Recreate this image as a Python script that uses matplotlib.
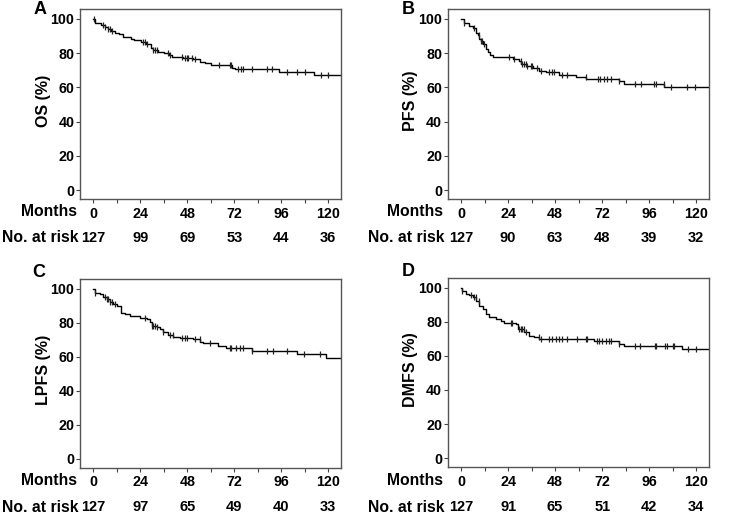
import numpy as np
import matplotlib
matplotlib.use("Agg")
import matplotlib.pyplot as plt
from matplotlib.transforms import blended_transform_factory

plt.rcParams['font.family'] = ['Liberation Sans', 'DejaVu Sans']
plt.rcParams['font.weight'] = 'bold'

# ---------------- data ----------------
month_ticks = [0, 24, 48, 72, 96, 120]
panel_letters = ["A", "B", "C", "D"]
ylabels = ["OS (%)", "PFS (%)", "LPFS (%)", "DMFS (%)"]

os_t = [0, 1, 4, 6, 7.5, 9, 11, 13, 15, 19.5, 21, 24.5, 27, 29.5, 30.5, 33, 36, 38.5, 40,
        46, 51, 54.5, 57, 60.3, 71, 72.5, 95, 112.7, 127]
os_s = [100, 97.5, 96.3, 95, 94, 93, 92, 91, 89.5, 88.5, 87.5, 86.5, 85.5, 83, 82, 80.8, 80, 79, 77.8,
        77, 76.3, 75, 74.3, 72.9, 71.5, 70.5, 69, 67, 67]
os_c = [0.5, 5.1, 6.0, 7.6, 8.5, 9.4, 25.5, 26.3, 27.2, 30.6, 31.4, 32.3, 38.2, 39.1, 45.1, 46.8,
        47.6, 48.4, 50.2, 51.9, 64.3, 69.7, 70.5, 73.9, 75.3, 76.5, 81.3, 88.9, 91.5, 99, 104.0,
        108.3, 116.1, 119.8]
os_risk = [127, 99, 69, 53, 44, 36]

pfs_t = [0, 1.4, 4.3, 6, 7.7, 8.5, 9.4, 10, 11, 12.8, 14, 15, 16.2, 23, 26.4, 29.8, 30.6, 33.2,
         36.6, 40, 43.4, 50.2, 58.7, 64, 80.7, 83.2, 103.7, 127]
pfs_s = [100, 97.6, 96, 94.5, 92, 90.6, 88.5, 87, 85.5, 82.4, 80.5, 79, 78, 77.5, 76.6, 75.6, 73.6,
         72.7, 71.3, 69.7, 68.8, 67.2, 66.3, 64.7, 63.5, 62.1, 60.2, 60.2]
pfs_c = [1.5, 6.6, 9.2, 10, 10.9, 11.7, 24.5, 27, 30.4, 31.3, 32.2, 33, 33.9, 35.6, 36.4, 38.9,
         40.6, 44.9, 46.6, 47.5, 51.7, 54.3, 63.6, 70, 71, 72.7, 74.4, 76.4, 80.7, 88.7, 91.7,
         98.6, 99.4, 103.3, 107, 115.2, 119.3]
pfs_risk = [127, 90, 63, 48, 39, 32]

lpfs_t = [0, 0.85, 3.4, 5.1, 6.8, 8.5, 10.2, 11.9, 14, 16.2, 18.7, 23.8, 27.2, 28.9, 29.8, 32.3,
          34, 35.7, 38.3, 40.9, 44.3, 51.1, 54.5, 56.2, 63.7, 68, 80.8, 104, 119, 127]
lpfs_s = [100, 97.5, 97, 95, 93.6, 92.2, 90.8, 89.7, 85.8, 85, 83.8, 82.8, 81.9, 80.5, 78, 77.5,
          76, 74.7, 72.7, 71.7, 70.8, 70.2, 68.8, 68.0, 66.5, 65.1, 63.6, 61.8, 59.3, 59.3]
lpfs_c = [0.9, 6, 6.8, 7.6, 8.5, 9.4, 11.1, 26.4, 29.8, 30.6, 31.4, 32.3, 35.7, 39.1, 40.8, 45.1,
          46.8, 47.6, 51.9, 54.4, 59.5, 69.7, 70.5, 73.1, 74.8, 76.5, 80.8, 88.9, 91.8, 98.9,
          107.6, 115.6]
lpfs_risk = [127, 97, 65, 49, 40, 33]

dmfs_t = [0, 0.5, 2.6, 4.3, 6, 7.7, 9.4, 11.1, 12.8, 14.5, 17.9, 20.4, 22.1, 28.1, 28.9, 32.3,
          34.9, 37.4, 40, 67.9, 80.7, 83.2, 112.7, 127]
dmfs_s = [100, 98, 96.5, 95.5, 94.2, 92.2, 89.3, 87.3, 84.4, 82.8, 81.5, 80.5, 79.5, 78.6, 75.6,
          73.7, 71.7, 71.2, 70.0, 68.4, 67.1, 65.7, 63.7, 63.7]
dmfs_c = [0.7, 4.9, 6.6, 7.5, 9.2, 25.3, 26.2, 29.6, 30.4, 31.3, 32.2, 33, 39.8, 40.7, 44.9, 46.6,
          48.3, 50, 51.7, 54.3, 59.4, 63.6, 64.5, 69.6, 70.5, 72.1, 73.8, 75.6, 76.4, 80.7, 88.6,
          91.4, 98.9, 99.6, 104, 105, 108.3, 108.8, 115.6, 119.8]
dmfs_risk = [127, 91, 65, 51, 42, 34]

series = [(os_t, os_s, os_c, os_risk), (pfs_t, pfs_s, pfs_c, pfs_risk),
          (lpfs_t, lpfs_s, lpfs_c, lpfs_risk), (dmfs_t, dmfs_s, dmfs_c, dmfs_risk)]

# ---------------- layout (pixels) ----------------
W, H = 738, 514
fig = plt.figure(figsize=(W / 100, H / 100), dpi=100)
boxes = [(80, 341, 9, 199), (447.7, 709, 9, 199), (80, 341, 278.7, 467.7), (447.7, 709, 277.7, 467)]
letter_pos = [(40, 10), (408.5, 10), (39, 272.5), (408, 272)]
months_pos = [(77.5, 211), (443.5, 211), (77.5, 480.5), (443.5, 480.5)]
risk_pos = [(79, 237.5), (444, 237.5), (79, 507), (444, 507)]

for i, (box, (t, s, c, risk)) in enumerate(zip(boxes, series)):
    l, r, top, bot = box
    ax = fig.add_axes([l / W, 1 - bot / H, (r - l) / W, (bot - top) / H])
    t = np.asarray(t, float)
    s = np.asarray(s, float)
    ax.step(t, s, where='post', color='black', lw=1.0)
    c = np.asarray(c, float)
    idx = np.searchsorted(t, c, side='right') - 1
    ax.plot(c, s[idx], ls='none', marker='|', ms=4.5, mew=0.9, color='#222222')

    ax.set_xlim(-6.8, 126.5)
    ax.set_ylim(-5.2, 105.8)
    ax.set_xticks(month_ticks)
    ax.set_xticks(np.arange(12, 121, 24), minor=True)
    ax.set_xticklabels([str(m) for m in month_ticks], fontsize=10.3, fontweight='bold')
    ax.set_yticks([0, 20, 40, 60, 80, 100])
    ax.set_yticklabels(['0', '20', '40', '60', '80', '100'], fontsize=10.3, fontweight='bold')
    ax.tick_params(axis='both', which='both', direction='out', length=3, width=0.8, color='#444444')
    ax.tick_params(axis='x', pad=2.5)
    ax.tick_params(axis='y', pad=1.0)
    for sp in ax.spines.values():
        sp.set_color('#555555')
        sp.set_linewidth(1.0)
    ax.set_ylabel(ylabels[i], fontsize=11.5, fontweight='bold')
    ax.yaxis.set_label_coords(-0.112, 0.515)

    trans = blended_transform_factory(ax.transData, fig.transFigure)
    ry = 1 - risk_pos[i][1] / H
    for m, n in zip(month_ticks, risk):
        ax.text(m, ry, str(n), transform=trans, ha='center', va='center',
                fontsize=10.5, fontweight='bold', clip_on=False)

    fig.text(letter_pos[i][0] / W, 1 - letter_pos[i][1] / H, panel_letters[i],
             ha='center', va='center', fontsize=13, fontweight='bold')
    fig.text(months_pos[i][0] / W, 1 - months_pos[i][1] / H, "Months",
             ha='right', va='center', fontsize=11.3, fontweight='bold')
    fig.text(risk_pos[i][0] / W, 1 - risk_pos[i][1] / H, "No. at risk",
             ha='right', va='center', fontsize=11.3, fontweight='bold')

fig.savefig("out.png", dpi=100)
